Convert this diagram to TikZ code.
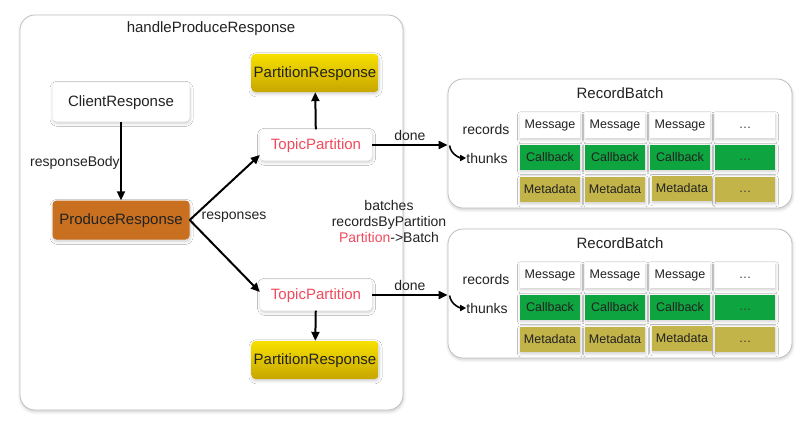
\documentclass[tikz,border=0pt]{standalone}
\usepackage{fontspec}
\setmainfont{Liberation Sans}
\usetikzlibrary{arrows.meta,shadows.blur}
\definecolor{txt}{HTML}{222222}
\definecolor{tpred}{HTML}{F04A5C}
\definecolor{orng}{HTML}{C8701F}
\definecolor{cbg}{HTML}{0EA43F}
\definecolor{mdo}{HTML}{C3B44A}
\definecolor{ylt}{HTML}{F6E000}
\definecolor{ylb}{HTML}{C8A600}
\newcommand\fsbig{\fontsize{15}{17}\selectfont}
\newcommand\fslab{\fontsize{14}{16}\selectfont}
\newcommand\fscell{\fontsize{12.5}{14}\selectfont}
\newcommand\mydots{{\vphantom{Mg}\textcolor{black!78}{\ldots}}}
\begin{document}
\begin{tikzpicture}[x=1pt,y=-1pt,
 shd/.style={blur shadow={shadow blur steps=8,shadow xshift=0.5pt,shadow yshift=-1.8pt,shadow opacity=20,shadow blur radius=3pt}},
 frame/.style={draw=black!25,line width=0.8pt,rounded corners=15pt,fill=white,shd},
 box/.style={rounded corners=4pt,inner sep=0pt,font=\fsbig,text=txt,text depth=1.5pt,shd},
 wbox/.style={box,fill=white},
 ybox/.style={box,top color=ylt,bottom color=ylb},
 obox/.style={box,fill=orng},
 cell/.style={minimum width=60pt,minimum height=25pt,inner sep=0pt,font=\fscell,text=txt,shd},
 lab/.style={font=\fslab,text=txt,inner sep=0pt},
 arr/.style={line width=2pt,-{Triangle[length=9pt,width=8pt]}},
 carr/.style={line width=1.6pt,-{Triangle[length=6pt,width=6pt]}},
]
\useasboundingbox (0,0) rectangle (810,428);
\node[frame,minimum width=383pt,minimum height=395pt] (main) at (211.5,212.5) {};
\node[lab,font=\fsbig] (t1) at (211,29) {handleProduceResponse};

\node[wbox,minimum width=137pt,minimum height=39pt] (cr) at (121,102) {ClientResponse};
\node[obox,minimum width=137pt,minimum height=39pt] (pr) at (121,220) {ProduceResponse};
\node[wbox,minimum width=112pt,minimum height=31pt,text=tpred] (tp1) at (316,145) {TopicPartition};
\node[wbox,minimum width=112pt,minimum height=31pt,text=tpred] (tp2) at (316,295) {TopicPartition};
\node[ybox,minimum width=127pt,minimum height=38pt] (pa1) at (315,73) {PartitionResponse};
\node[ybox,minimum width=127pt,minimum height=38pt] (pa2) at (315,360) {PartitionResponse};

\draw[arr] (cr) -- (pr);
\draw[arr] (tp1) -- (pa1);
\draw[arr] (tp2) -- (pa2);
\draw[arr] (pr.east) -- ([yshift=-10pt]tp1.west);
\draw[arr] (pr.east) -- ([yshift=3pt]tp2.west);
\node[lab] (rbody) at (75,163) {responseBody};
\node[lab] (resp) at (234,217) {responses};
\node[lab,align=center] (bt) at (389,221) {batches\\recordsByPartition\\\textcolor{tpred}{Partition}->Batch};

\foreach \i/\dy in {1/0,2/150}{
  \node[frame,minimum width=344pt,minimum height=129pt] (rb\i) at (620,143.5+\dy) {};
  \node[lab,font=\fsbig] (rbt\i) at (620,93+\dy) {RecordBatch};
  \node[lab] (rec\i) at (486,129+\dy) {records};
  \node[lab] (th\i) at (487,158+\dy) {thunks};
  \foreach \c in {1,2,3}{
    \node[cell,fill=white] (m\i\c) at ({485+65*\c},125.5+\dy) {Message};
    \node[cell,fill=cbg] (c\i\c) at ({485+65*\c},157+\dy) {Callback};
  }
  \node[cell,fill=mdo] (d\i1) at (550,189.5+\dy) {Metadata};
  \node[cell,fill=mdo] (d\i2) at (615,189.5+\dy) {Metadata};
  \node[cell,fill=mdo] (d\i3) at (682,188.5+\dy) {Metadata};
  \node[cell,fill=white] (m\i4) at (745,125.5+\dy) {\mydots};
  \node[cell,fill=cbg] (c\i4) at (745,157+\dy) {\mydots};
  \node[cell,fill=mdo] (d\i4) at (745,189.5+\dy) {\mydots};
  \draw[arr] (tp\i.east) -- (tp\i.east -| rb\i.west) node[lab,midway,above=3pt] {done};
  \draw[carr] ([xshift=2pt,yshift=-2pt]rb\i.west) .. controls +(1,9) and +(-6,0) .. (th\i.west);
}
\end{tikzpicture}
\end{document}
